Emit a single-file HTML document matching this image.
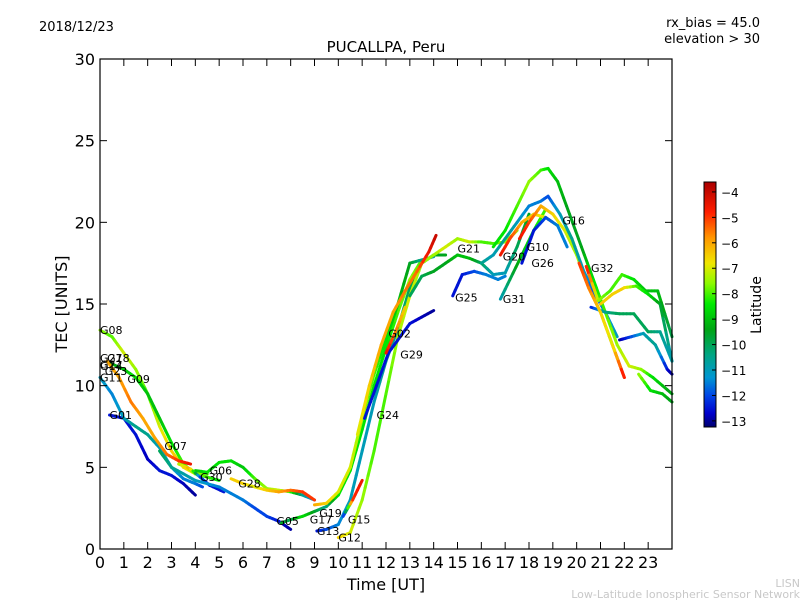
<!DOCTYPE html>
<html><head><meta charset="utf-8"><style>
body{margin:0;background:#fff}
svg{display:block;font-family:"DejaVu Sans","Liberation Sans",sans-serif}
</style></head><body>
<svg id="c" width="800" height="600" viewBox="0 0 800 600">
<rect width="800" height="600" fill="#fff"/>
<text x="39" y="31" font-size="13">2018/12/23</text>
<text x="760" y="27" font-size="13" text-anchor="end">rx_bias = 45.0</text>
<text x="760" y="43" font-size="13" text-anchor="end">elevation &gt; 30</text>
<text x="386" y="52" font-size="15" text-anchor="middle">PUCALLPA, Peru</text>
<g id="plot"></g>
<g id="axes"></g>
<text x="386" y="590" font-size="16" text-anchor="middle">Time [UT]</text>
<text transform="translate(67,304) rotate(-90)" font-size="16" text-anchor="middle">TEC [UNITS]</text>
<g id="cbar"></g>
<text transform="translate(761,305) rotate(-90)" font-size="14" text-anchor="middle">Latitude</text>
<text x="800" y="587" font-size="11" fill="#c8c8c8" text-anchor="end">LISN</text>
<text x="800" y="598" font-size="11" fill="#c8c8c8" text-anchor="end">Low-Latitude Ionospheric Sensor Network</text>
</svg>
<script>
// data
const trackNames=["G08","G09","G01","G11","G07","G06","G30","G28","G05","G17","G19","G13","G12","G15","G24","G02","G29","G21","G25","G31","G20","G10","G26","G16","GPK","G32","GT1","GB1","GR1","GY1","GG2"];
const trackTimes=[
[0,0.5,1,1.5,2,2.5,3,3.5,4,4.5],
[0.4,1,1.5,2,2.5,3,3.5,4,4.5,5],
[0.4,1,1.5,2,2.5,3,3.5,4],
[0,0.5,1,1.5,2,2.5,3,3.5,4,4.3],
[0.3,0.8,1.3,1.8,2.3,2.8,3.3,3.8],
[4,4.5,5,5.5,6,6.5,7,7.5,8,8.5,9],
[3.3,3.8,4.2,4.6,5.2],
[5.5,6,6.5,7,7.5,8,8.5,9],
[2.5,3,4,5,6,6.5,7,7.5,8],
[7.6,8,8.5,9,9.5,10,10.5,11,11.5,12,12.5,13,13.5],
[9,9.5,10,10.5,11,11.5,12,12.5,13,13.5,14],
[9.1,9.5,10,10.5,11,11.5,12,12.5,13,13.5,14,14.5],
[10,10.5,11,11.5,12,12.5,13,13.5,14,14.5,15,15.5,16,16.5,17,17.5],
[10.2,10.6,11],
[11.1,11.6,12.1,12.6,13,13.5,14],
[10.8,11.3,11.8,12.3,12.8,13.3,13.8,14.1],
[12,12.4,12.8],
[13,13.5,14,14.5,15,15.5,16,16.5,17,17.5,18],
[14.8,15.2,15.7,16.2,16.7,17],
[16.8,17.2,17.7,18.2,18.7],
[16.8,17.2,17.7,18.2,18.7,19.2],
[17.6,18,18.5,19,19.5,20,20.5,21,21.5,22],
[17.7,18.2,18.7,19.2,19.6],
[16,16.5,17,17.5,18,18.5,18.8,19.3,19.8,20.3,20.8,21.2,21.7],
[16.5,17,17.5,18,18.5,18.8,19.2,19.7,20.2,20.7,21.2,21.7,22.2,22.7,23.2,24],
[20.4,20.9,21.4,21.9,22.4,22.9,23.4,24],
[20.6,21.2,21.8,22.4,23,23.5,24],
[21.8,22.3,22.8,23.3,23.8,24],
[20.1,20.5,21,21.5,22],
[21,21.5,22,22.5,23,23.5,24],
[22.6,23.1,23.6,24]];
const trackTec=[
[13.4,13,12,11,9.5,7.5,6,5,4.6,4.6],
[11.4,11,10.5,9.5,8,6.5,5.2,4.6,4.4,4.2],
[8.2,8,7,5.5,4.8,4.5,4,3.3],
[10.5,9.5,8,7.5,7,6.2,5,4.3,4,3.8],
[11.5,10.5,9,8,6.8,5.8,5.4,5.2],
[4.8,4.7,5.3,5.4,5,4.3,3.7,3.6,3.5,3.3,3],
[5.2,4.9,4.4,3.9,3.5],
[4.3,4,3.8,3.6,3.5,3.6,3.5,3],
[6,5,4.2,3.8,3,2.5,2,1.7,1.2],
[1.6,1.8,2,2.3,2.6,3.3,4.8,7.3,10,12.3,14.5,16.5,17.7],
[2.7,2.8,3.5,5,8,10.7,12.8,15,17.5,17.7,17.9],
[1.1,1.2,1.5,3,6,9,11.5,13.5,16,17.5,18,18],
[0.7,1,3,6,9.5,13,15.5,17.5,18,18.5,19,18.8,18.8,18.7,18.8,19.5],
[2,3,4.2],
[8,10,12,13,13.8,14.2,14.6],
[7,10,12.5,14.5,15.8,17,18.2,19.2],
[12,13.3,14.8],
[15.5,16.7,17,17.5,18,17.8,17.5,16.8,16.9,18.5,20.5],
[15.5,16.8,17,16.8,16.5,16.7],
[15.3,16.5,18,19.5,20.8],
[18,19,20,20.5,20.3,19.8],
[19,20,21,20.5,19.5,18,16,14.5,12.5,10.5],
[17.5,19.5,20.3,19.8,18.5],
[17.5,18,19,20,21,21.3,21.6,20.5,19,17,15.5,14.5,13],
[18.5,19.5,21,22.5,23.2,23.3,22.5,20.5,18.5,16.5,14.5,12.5,11.2,11,10.5,9.5],
[17.3,15.2,15.8,16.8,16.5,15.8,15.8,13],
[14.8,14.5,14.4,14.4,13.3,13.3,11.5],
[12.8,13,13.2,12.5,11,10.7],
[17.5,16,14.5,12.5,10.5],
[15,15.6,16,16.1,15.6,15,11.5],
[10.7,9.7,9.5,9]];
const trackLat=[
[-7.5,-8,-7,-7.5,-8,-7,-6.5,-6.5,-7,-8],
[-9.5,-9,-8.5,-9,-9,-8.5,-8,-7.5,-8,-8.5],
[-12.5,-12.5,-12.5,-12.8,-12.5,-12.5,-12.8,-13],
[-11,-11.5,-11,-10.5,-10.5,-11,-11,-11.5,-11.5,-12],
[-6,-6,-5.5,-6,-6,-5.5,-5,-4.5],
[-9,-8.5,-8.5,-8.5,-9,-8,-7.5,-7,-8,-10.5,-11.5],
[-7.5,-6,-12,-12.5,-12.5],
[-6.5,-6.5,-7,-6.5,-6,-5.5,-5,-5],
[-10,-10.5,-11,-11.5,-11.5,-12,-12,-12.5,-13],
[-9.5,-10,-8.5,-9.5,-10.5,-8.5,-8.5,-8.5,-8.5,-8.5,-8,-7.5,-8],
[-6,-6.5,-7,-7,-7.5,-8,-8.5,-9,-9.5,-10.5,-11],
[-12.5,-12,-11.5,-11,-11,-11,-10.5,-10.5,-10,-9.5,-9.5,-9.5],
[-6.5,-7,-7.5,-8,-8,-7.5,-7,-7.5,-7.5,-7,-7.5,-7,-8,-8,-7.5,-7.5],
[-13,-5,-4.5],
[-12.5,-12.5,-12.5,-12.5,-12.5,-12.8,-13],
[-7,-6.5,-6,-6,-5.5,-5.5,-4.5,-4],
[-4.5,-5.5,-6.5],
[-10,-10,-9.5,-9.5,-9,-9,-10,-11,-11,-10,-9.5],
[-12.5,-12.5,-12,-11.5,-11.5,-11.5],
[-11,-10,-9,-8.5,-8],
[-4.5,-5,-6,-6.5,-7,-7.5],
[-4.5,-5,-6,-6.5,-7,-7.5,-6.5,-6,-5,-4.5],
[-12.5,-12.5,-12,-11.5,-11.5],
[-10.5,-11,-10.5,-11,-11.5,-11.5,-12,-11,-10.5,-11,-12,-11.5,-11],
[-8.5,-8.5,-8,-7.5,-8,-8.5,-9,-9.5,-9.5,-8.5,-8,-7.5,-7,-7.5,-8.5,-9.5],
[-4.5,-7.5,-8,-8,-8.5,-9,-9,-10],
[-12.5,-10.5,-10,-10,-10,-10.5,-11],
[-13,-12,-11,-10.5,-12.5,-13],
[-5,-5.5,-6.5,-7,-4.5],
[-6.5,-6.5,-6.5,-8,-8.5,-9.5,-11],
[-7.5,-8.5,-9,-9.5]];
const labelNames=["G08","G09","G01","G11","G07","G06","G30","G28","G05","G17","G19","G13","G12","G15","G24","G02","G29","G21","G25","G31","G20","G10","G26","G16","G32","G27","G18","G14","G23","G22"];
const labelTime=[0,1.15,0.4,0,2.7,4.6,4.2,5.8,7.4,8.8,9.2,9.1,10,10.4,11.6,12.1,12.6,15,14.9,16.9,16.9,17.9,18.1,19.4,20.6,0,0.3,0,0.2,0];
const labelTec=[13.4,10.4,8.2,10.5,6.3,4.8,4.4,4,1.7,1.8,2.2,1.1,0.7,1.8,8.2,13.2,11.9,18.4,15.4,15.3,17.9,18.5,17.5,20.1,17.2,11.7,11.7,11.2,10.9,11.3];
const yTicks=[0,5,10,15,20,25,30];
const xTicks=[0,1,2,3,4,5,6,7,8,9,10,11,12,13,14,15,16,17,18,19,20,21,22,23];
const cbTicks=[-4,-5,-6,-7,-8,-9,-10,-11,-12,-13];

const NS="http://www.w3.org/2000/svg";
const X0=100,X1=672,Y0=549,Y1=59;
const xs=t=>X0+t*(X1-X0)/24;
const ys=v=>Y0-v*(Y0-Y1)/30;
const CB0=-13.24,CB1=-3.61,CBY0=427,CBY1=182;
const cbY=l=>CBY0-(l-CB0)*(CBY0-CBY1)/(CB1-CB0);
const cmapStops=[[-13.24,[0,0,110]],[-12.7,[0,0,205]],[-12,[0,70,230]],[-11.3,[0,150,210]],[-10.4,[0,165,130]],[-9.4,[0,165,20]],[-8.4,[0,235,0]],[-7.6,[140,250,0]],[-6.8,[240,230,0]],[-5.8,[255,150,0]],[-4.8,[255,30,0]],[-3.61,[170,0,0]]];
function jet(l){
 if(l<=cmapStops[0][0])return `rgb(${cmapStops[0][1]})`;
 for(let i=0;i<cmapStops.length-1;i++){const a=cmapStops[i],b=cmapStops[i+1];
  if(l<=b[0]){const f=(l-a[0])/(b[0]-a[0]);return 'rgb('+a[1].map((v,k)=>Math.round(v+(b[1][k]-v)*f)).join(',')+')';}}
 return `rgb(${cmapStops[cmapStops.length-1][1]})`;}
function mk(tag,attrs,parent){const e=document.createElementNS(NS,tag);for(const k in attrs)e.setAttribute(k,attrs[k]);parent.appendChild(e);return e;}
const plot=document.getElementById('plot');
trackNames.forEach((n,i)=>{
 const g=mk('g',{},plot);
 
 
 const T=trackTimes[i],V=trackTec[i],L=trackLat[i];
 for(let j=0;j<T.length-1;j++){
  const steps=4;
  for(let s=0;s<steps;s++){
   const a=s/steps,b=(s+1)/steps;
   const ln=mk('line',{x1:xs(T[j]+(T[j+1]-T[j])*a),y1:ys(V[j]+(V[j+1]-V[j])*a),x2:xs(T[j]+(T[j+1]-T[j])*b),y2:ys(V[j]+(V[j+1]-V[j])*b),stroke:jet(L[j]+(L[j+1]-L[j])*(a+b)/2),'stroke-width':3,'stroke-linecap':'round'},g);
   
   
  }
 }
});
labelNames.forEach((n,i)=>{
 const t=mk('text',{x:xs(labelTime[i]),y:ys(labelTec[i])+4,'font-size':11},plot);
 t.textContent=n;
 
 
});
const ax=document.getElementById('axes');
const fr=mk('rect',{x:X0,y:Y1,width:X1-X0,height:Y0-Y1,fill:'none',stroke:'#000','stroke-width':1.2},ax);


yTicks.forEach(v=>{
 mk('line',{x1:X0,y1:ys(v),x2:X0+7,y2:ys(v),stroke:'#000'},ax);
 mk('line',{x1:X1,y1:ys(v),x2:X1-7,y2:ys(v),stroke:'#000'},ax);
 const t=mk('text',{x:X0-5,y:ys(v)+6,'font-size':16,'text-anchor':'end'},ax);t.textContent=v;
 
 
});
xTicks.forEach(v=>{
 mk('line',{x1:xs(v),y1:Y0,x2:xs(v),y2:Y0-7,stroke:'#000'},ax);
 mk('line',{x1:xs(v),y1:Y1,x2:xs(v),y2:Y1+7,stroke:'#000'},ax);
 const t=mk('text',{x:xs(v),y:Y0+19,'font-size':16,'text-anchor':'middle'},ax);t.textContent=v;
 
 
});
const cb=document.getElementById('cbar');
for(let y=CBY1;y<CBY0;y++){mk('rect',{x:704,y:y,width:12,height:1.2,fill:jet(CB0+(CBY0-y-0.5)*(CB1-CB0)/(CBY0-CBY1))},cb);}
mk('rect',{x:704,y:CBY1,width:12,height:CBY0-CBY1,fill:'none',stroke:'#000'},cb);
cbTicks.forEach(l=>{
 mk('line',{x1:712,y1:cbY(l),x2:716,y2:cbY(l),stroke:'#000'},cb);
 const t=mk('text',{x:721,y:cbY(l)+5,'font-size':12},cb);t.textContent='\u2212'+Math.abs(l);
 
 
});
</script>
</body></html>
